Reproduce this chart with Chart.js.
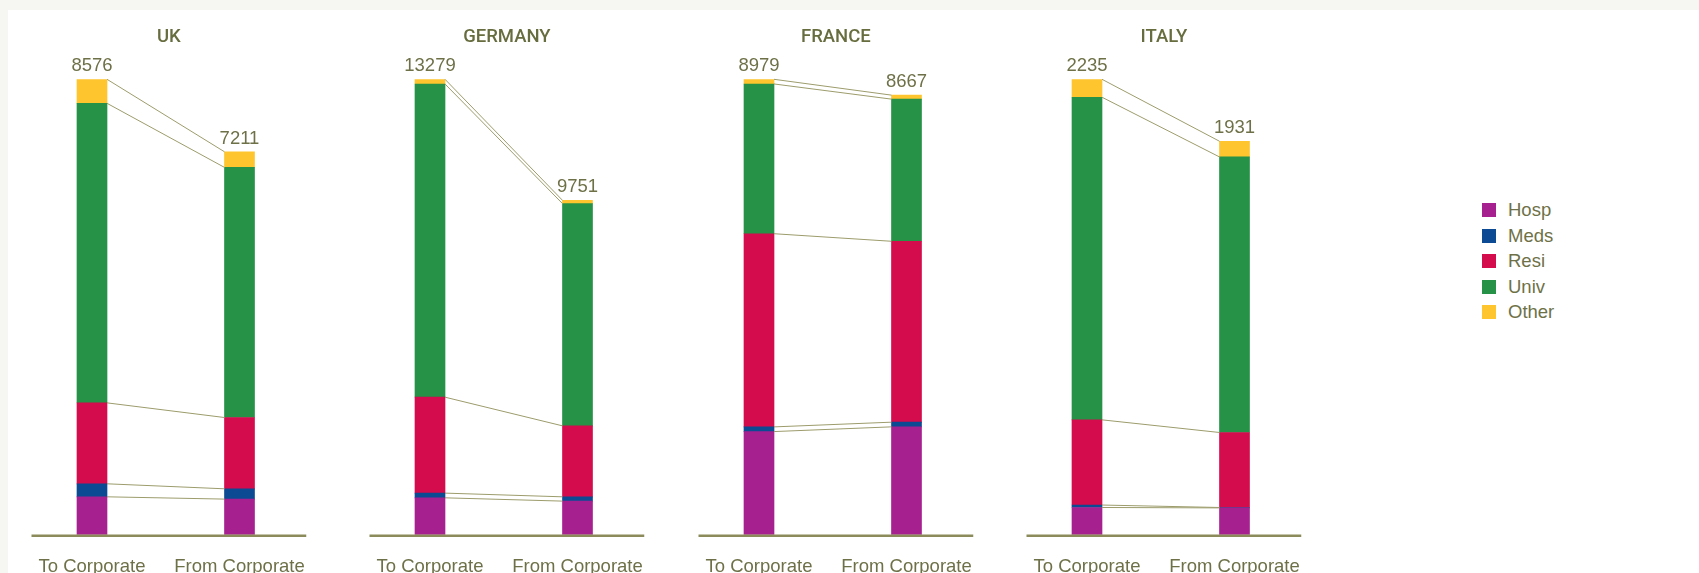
<!DOCTYPE html>
<html><head><meta charset="utf-8">
<script src="https://cdn.jsdelivr.net/npm/chart.js@4.4.0/dist/chart.umd.min.js"></script>
<style>
html,body{margin:0;padding:0;width:1699px;height:573px;overflow:hidden;background:#f6f6f2;font-family:"Liberation Sans",Arial,sans-serif;}
#panel{position:absolute;left:8px;top:10px;width:1691px;height:563px;background:#fff;}
.box{position:absolute;top:10px;width:320px;height:589px;}
#legend{position:absolute;left:1482px;top:0;}
.li{position:absolute;left:0;height:20px;white-space:nowrap;font-size:18.5px;color:#6e7147;line-height:20px}
.sw{position:absolute;left:0;top:3px;width:14px;height:14px}
.li span{position:absolute;left:26px;top:0}
</style></head><body>
<div id="panel"></div>
<div id="charts"></div>
<div id="legend"></div>
<script>
const countries = ['UK','GERMANY','FRANCE','ITALY'];
const directions = ['To Corporate','From Corporate'];
const seriesNames = ['Hosp','Meds','Resi','Univ','Other'];
const hosp  = [[715,672],[1078,982],[2035,2128],[134,132]];
const meds  = [[245,194],[137,125],[92,92],[12,2]];
const resi  = [[1524,1342],[2797,2069],[3808,3566],[418,368]];
const univ  = [[5640,4709],[9130,6479],[2952,2802],[1583,1352]];
const other = [[452,294],[137,96],[92,79],[88,77]];
const seriesColors = ['#a6208f','#0d4a94','#d40b4c','#259247','#fec52e'];

const seriesData = [hosp, meds, resi, univ, other];
const textColor = '#6e7147';
const panelLeft = [12, 350, 679, 1007];

const decor = {
  id: 'decor',
  afterDatasetsDraw(chart, args, opts) {
    const ctx = chart.ctx, ca = chart.chartArea;
    const n = chart.data.datasets.length;
    ctx.save();
    ctx.strokeStyle = '#9c9c6c'; ctx.lineWidth = 1;
    for (let i = 0; i < n; i++) {
      const m = chart.getDatasetMeta(i).data;
      const a = m[0], b = m[1];
      ctx.beginPath();
      ctx.moveTo(a.x + a.width / 2, a.y);
      ctx.lineTo(b.x - b.width / 2, b.y);
      ctx.stroke();
    }
    const x0 = ca.left + 13.25, x1 = ca.right - 7;
    ctx.strokeStyle = '#8b8b5b'; ctx.lineWidth = 2.5;
    ctx.beginPath(); ctx.moveTo(x0, ca.bottom + 1); ctx.lineTo(x1, ca.bottom + 1); ctx.stroke();
    const top = chart.getDatasetMeta(n - 1).data;
    ctx.fillStyle = textColor; ctx.font = '18.5px "Liberation Sans"';
    ctx.textAlign = 'center'; ctx.textBaseline = 'middle';
    chart.data.labels.forEach((l, j) => {
      let total = 0; chart.data.datasets.forEach(d => total += d.data[j]);
      ctx.fillText(String(total), top[j].x, top[j].y - 13);
    });
    ctx.fillStyle = '#686d3f';
    ctx.font = '500 18.5px Roboto';
    ctx.fillText(opts.title, (x0 + x1) / 2, 27);
    ctx.restore();
  }
};

const holder = document.getElementById('charts');
countries.forEach((c, k) => {
  const box = document.createElement('div');
  box.className = 'box'; box.style.left = panelLeft[k] + 'px';
  const cv = document.createElement('canvas');
  box.appendChild(cv); holder.appendChild(box);
  const datasets = seriesNames.map((s, i) => ({
    label: s, data: seriesData[i][k], backgroundColor: seriesColors[i],
    borderWidth: 0, barThickness: 30
  }));
  const totals = directions.map((d, j) => seriesData.reduce((acc, arr) => acc + arr[k][j], 0));
  new Chart(cv, {
    type: 'bar',
    data: { labels: directions, datasets },
    options: {
      responsive: true, maintainAspectRatio: false, animation: false, events: [],
      layout: { padding: { left: 6.25, right: 18.75, top: 69.3, bottom: 0 } },
      plugins: { legend: { display: false }, tooltip: { enabled: false }, title: { display: false },
        decor: { title: c } },
      scales: {
        x: { stacked: true, grid: { display: false, drawTicks: false }, border: { display: false },
             ticks: { color: textColor, font: { family: 'Liberation Sans', size: 18.5 }, padding: 21, maxRotation: 0 } },
        y: { stacked: true, display: false, min: 0, max: Math.max(...totals) }
      }
    },
    plugins: [decor]
  });
});

const lg = document.getElementById('legend');
seriesNames.forEach((s, i) => {
  const d = document.createElement('div');
  d.className = 'li'; d.style.top = (200 + 25.5 * i) + 'px';
  d.innerHTML = '<div class="sw" style="background:' + seriesColors[i] + '"></div><span>' + s + '</span>';
  lg.appendChild(d);
});
</script>
</body></html>
